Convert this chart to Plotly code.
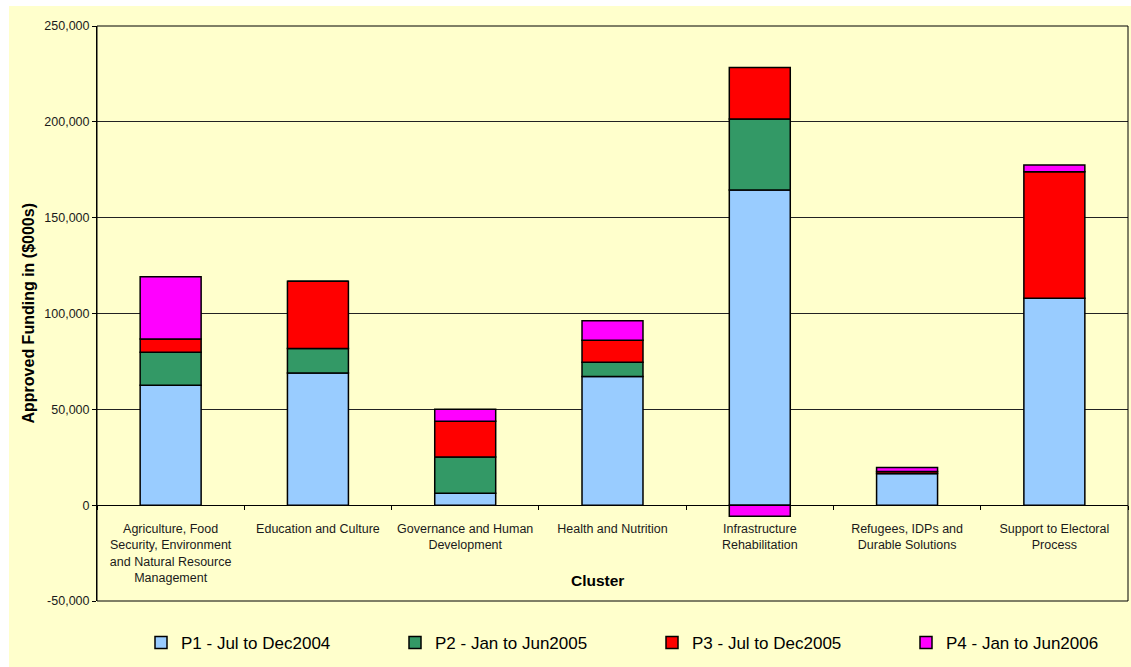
import plotly.graph_objects as go

# Clusters and their funding by period ($000s)
clusters = [
    "Agriculture, Food Security, Environment and Natural Resource Management",
    "Education and Culture",
    "Governance and Human Development",
    "Health and Nutrition",
    "Infrastructure Rehabilitation",
    "Refugees, IDPs and Durable Solutions",
    "Support to Electoral Process",
]
cluster_labels = [
    "Agriculture, Food<br>Security, Environment<br>and Natural Resource<br>Management",
    "Education and Culture",
    "Governance and Human<br>Development",
    "Health and Nutrition",
    "Infrastructure<br>Rehabilitation",
    "Refugees, IDPs and<br>Durable Solutions",
    "Support to Electoral<br>Process",
]
period_names = [
    "P1 - Jul to Dec2004",
    "P2 - Jan to Jun2005",
    "P3 - Jul to Dec2005",
    "P4 - Jan to Jun2006",
]
p1 = [62600, 68900, 6200, 67100, 164500, 16500, 108000]
p2 = [17200, 12800, 18900, 7500, 37000, 0, 0]
p3 = [6900, 35100, 18700, 11400, 26800, 1000, 65900]
p4 = [32500, 0, 6200, 10200, -5800, 2100, 3600]
period_colors = ["#99CCFF", "#339966", "#FF0000", "#FF00FF"]

y_tickvals = [-50000, 0, 50000, 100000, 150000, 200000, 250000]
y_ticktext = ["-50,000", "0", "50,000", "100,000", "150,000", "200,000", "250,000"]

BG = "#FFFFCC"
FONT = "Arial, Liberation Sans, sans-serif"

# Pixel geometry of the plot area
L, R, T, B = 97, 3, 26, 66
W, H = 1131, 667
PW = W - L - R
PH = H - T - B


def px_x(px):
    return (px - L) / PW


def px_y(py):
    return (H - B - py) / PH


# one legend per period so each entry sits in its own slot along the bottom
legend_left_px = [141, 395, 652, 906]
legend_ids = ["legend", "legend2", "legend3", "legend4"]

fig = go.Figure()
for name, vals, col, lid in zip(period_names, [p1, p2, p3, p4], period_colors, legend_ids):
    fig.add_trace(go.Bar(
        x=clusters, y=vals, name=name, legend=lid,
        marker=dict(color=col, line=dict(color="black", width=1.5)),
    ))

legend_style = dict(
    orientation="h", xanchor="left", yanchor="middle", y=px_y(643),
    font=dict(size=17, family=FONT, color="#000000"),
    bgcolor="rgba(0,0,0,0)",
)
legends = {
    lid: dict(legend_style, x=px_x(lx))
    for lid, lx in zip(legend_ids, legend_left_px)
}

fig.update_layout(
    width=W, height=H,
    margin=dict(l=L, r=R, t=T, b=B, autoexpand=False),
    paper_bgcolor=BG, plot_bgcolor=BG,
    barmode="relative", bargap=0.586,
    font=dict(family=FONT, color="#111111"),
    showlegend=True,
    **legends,
    xaxis=dict(
        type="category",
        tickvals=clusters, ticktext=cluster_labels,
        anchor="free", position=1 / 6,
        showline=True, linecolor="black", linewidth=1,
        ticks="outside", tickson="boundaries", ticklen=4, tickcolor="black",
        tickfont=dict(size=12.5, family=FONT, color="#1a1a1a"),
        ticklabelstandoff=12,
        showgrid=False, zeroline=False, tickangle=0,
    ),
    yaxis=dict(
        range=[-50000, 250000],
        tickvals=y_tickvals, ticktext=y_ticktext,
        showline=True, linecolor="black", linewidth=1,
        ticks="outside", ticklen=4, tickcolor="black",
        tickfont=dict(size=12.5, family=FONT, color="#1a1a1a"),
        showgrid=True, gridcolor="#222222", gridwidth=1,
        zeroline=False,
    ),
    annotations=[
        dict(text="<b>Approved Funding in ($000s)</b>", textangle=-90,
             xref="paper", yref="paper", x=px_x(28), y=0.5,
             xanchor="center", yanchor="middle", showarrow=False,
             font=dict(size=16, family=FONT, color="#000000")),
        dict(text="<b>Cluster</b>",
             xref="paper", yref="paper", x=px_x(597), y=px_y(580),
             xanchor="center", yanchor="middle", showarrow=False,
             font=dict(size=15.5, family=FONT, color="#000000")),
    ],
    shapes=[
        # plot area frame
        dict(type="rect", xref="paper", yref="paper", x0=0, x1=1, y0=0, y1=1,
             line=dict(color="black", width=1), fillcolor="rgba(0,0,0,0)",
             layer="above"),
        # white page margin on the left and top of the chart area
        dict(type="rect", xref="paper", yref="paper", x0=-0.2, x1=px_x(9),
             y0=-0.3, y1=1.3, line=dict(width=0), fillcolor="white", layer="below"),
        dict(type="rect", xref="paper", yref="paper", x0=-0.2, x1=1.2,
             y0=px_y(6), y1=1.3, line=dict(width=0), fillcolor="white", layer="below"),
    ],
)

fig.write_html("out.html")
